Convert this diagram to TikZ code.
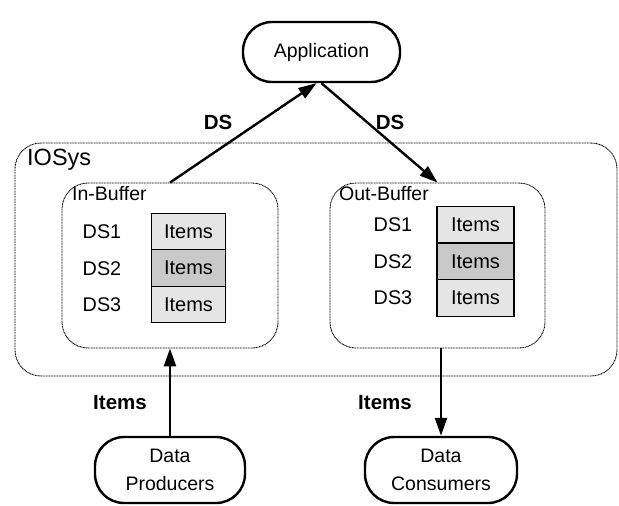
\documentclass[tikz,border=0pt]{standalone}
\usepackage{fontspec}
\setmainfont{Liberation Sans}
\usetikzlibrary{arrows.meta}
\begin{document}
\begin{tikzpicture}[x=1pt,y=-1pt,
  term/.style={draw,line width=2.4pt,rounded corners=29pt,align=center,font=\fontsize{19.5}{27.5}\selectfont,inner sep=0pt},
  region/.style={draw,line width=0.9pt,dash pattern=on 1pt off 0.6pt,rounded corners=26pt,inner sep=0pt},
  itembox/.style={draw,line width=1.4pt,minimum width=74pt,minimum height=36.5pt,inner sep=0pt,font=\fontsize{20}{22}\selectfont},
  dslab/.style={font=\fontsize{19.8}{22}\selectfont,inner sep=0pt},
  boldlab/.style={font=\bfseries\fontsize{20.5}{22}\selectfont,inner sep=0pt},
  flow/.style={line width=2.4pt,-{Triangle[length=18pt,width=12pt]}}]
\useasboundingbox (0,0) rectangle (619,506);
\definecolor{lightg}{gray}{0.9}
\definecolor{midg}{gray}{0.79}
% outer system
\node[region,minimum width=602pt,minimum height=233pt] (iosys) at (316,259.5) {};
\node[anchor=west,font=\fontsize{23.5}{27}\selectfont,inner sep=0pt] (iosyslab) at (27,160) {IOSys};
% buffers
\node[region,minimum width=216pt,minimum height=165pt] (inbuf) at (170,265.5) {};
\node[region,minimum width=215pt,minimum height=165pt] (outbuf) at (437.5,265.5) {};
\node[anchor=west,font=\fontsize{19.5}{22}\selectfont,inner sep=0pt] (inlab) at (72,194) {In-Buffer};
\node[anchor=west,font=\fontsize{19.5}{22}\selectfont,inner sep=0pt] (outlab) at (339,194) {Out-Buffer};
% in-buffer items
\node[itembox,fill=lightg] (i1) at (188.5,231.5) {Items};
\node[itembox,fill=midg] (i2) at (188.5,268) {Items};
\node[itembox,fill=lightg] (i3) at (188.5,304.5) {Items};
\node[dslab] (d1) at (102,232) {DS1};
\node[dslab] (d2) at (102,268.5) {DS2};
\node[dslab] (d3) at (102,305) {DS3};
% out-buffer items
\node[itembox,fill=lightg,minimum width=77pt] (o1) at (475.5,224.5) {Items};
\node[itembox,fill=midg,minimum width=77pt] (o2) at (475.5,261.5) {Items};
\node[itembox,fill=lightg,minimum width=77pt] (o3) at (475.5,298) {Items};
\node[dslab] (e1) at (393,224.5) {DS1};
\node[dslab] (e2) at (393,261.5) {DS2};
\node[dslab] (e3) at (393,298) {DS3};
% terminals
\node[term,minimum width=157pt,minimum height=60pt] (app) at (321.5,52) {Application};
\node[term,minimum width=150pt,minimum height=66pt] (prod) at (170,470) {Data\\Producers};
\node[term,minimum width=152pt,minimum height=66pt] (cons) at (441,470) {Data\\Consumers};
% connectors
\draw[flow] (inbuf.north) -- ([xshift=-5pt]app.south);
\draw[flow] (app.south) -- (outbuf.north);
\draw[flow] (prod.north) -- (inbuf.south);
\draw[flow] (cons.north |- outbuf.south) -- (cons.north);
% labels
\node[boldlab] (ds1) at (218,122) {DS};
\node[boldlab] (ds2) at (390,122) {DS};
\node[boldlab] (it1) at (120,403) {Items};
\node[boldlab] (it2) at (385,403) {Items};
\end{tikzpicture}
\end{document}
